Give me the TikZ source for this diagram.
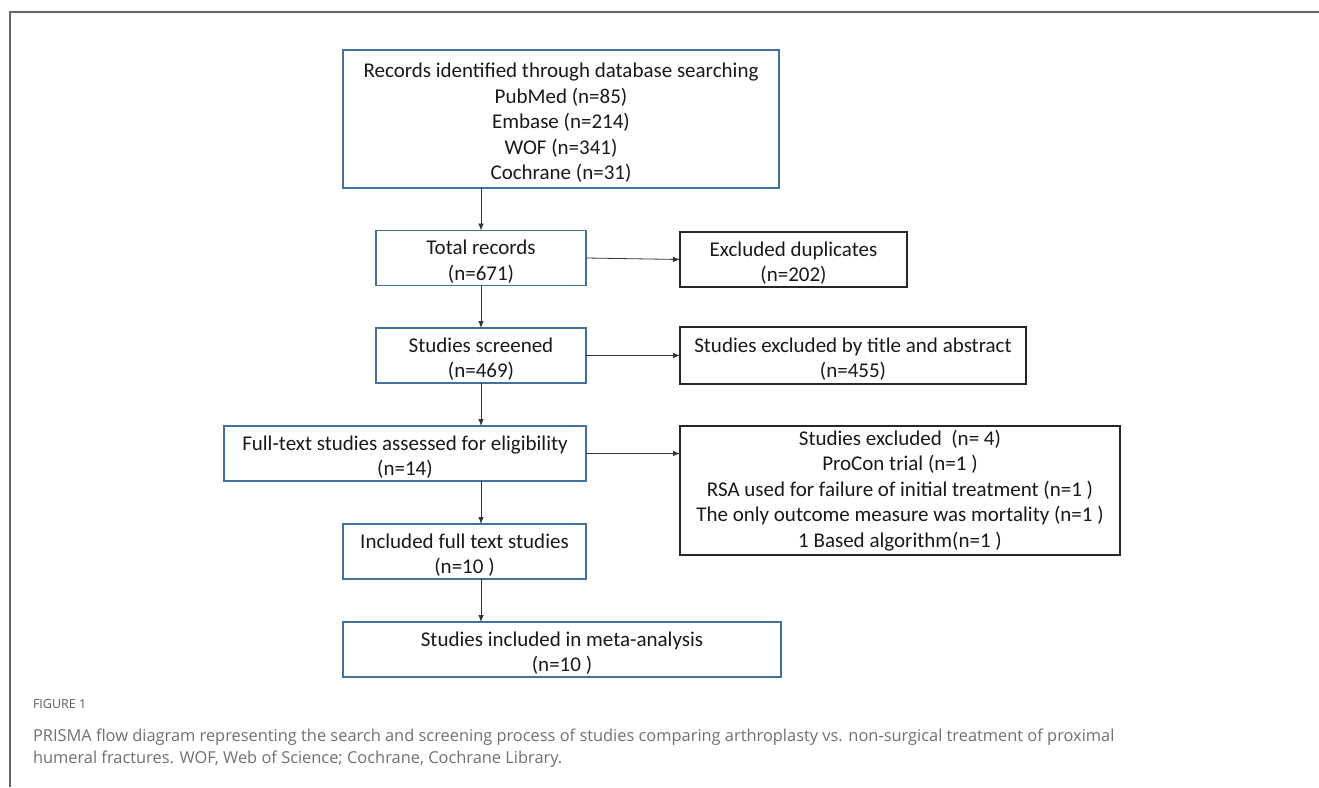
\documentclass[tikz,border=0pt]{standalone}
\usepackage{fontspec}
\setmainfont{Carlito}
\newfontfamily\capfont{Open Sans}
\usetikzlibrary{arrows.meta}
\definecolor{boxblue}{RGB}{65,113,156}
\definecolor{capgray}{RGB}{112,112,112}
\newcommand\lift{\rule{0pt}{22pt}}

\begin{document}
\begin{tikzpicture}[>={Latex[length=7pt,width=5.5pt]}, x=1pt, y=-1pt,
  every node/.style={font=\fontsize{21}{25.5}\selectfont, align=center, inner sep=0pt, outer sep=0pt, text=black!90},
  flowbox/.style={draw=boxblue, line width=1.2pt, minimum height=55pt},
  exclbox/.style={draw=black!85, line width=1.2pt, minimum height=55pt},
  link/.style={->, line width=0.8pt, black!80}]

\useasboundingbox (0,0) rectangle (1319,787);
\draw[line width=1.6pt, gray!80!black] (10,787)--(10,12)--(1319,12);

\node[flowbox, minimum width=436pt, minimum height=138pt] (rec) at (561,119)
  {\lift Records identified through database searching\\PubMed (n=85)\\Embase (n=214)\\WOF (n=341)\\Cochrane (n=31)};
\node[flowbox, minimum width=210pt] (tot) at (481,258) {\lift Total records\\(n=671)};
\node[exclbox, minimum width=227pt] (dup) at (793.5,259.5) {\lift Excluded duplicates\\(n=202)};
\node[flowbox, minimum width=210pt] (scr) at (481,355.5) {\lift Studies screened\\(n=469)};
\node[exclbox, minimum width=346pt, minimum height=57pt] (tia) at (853,355.5) {\lift Studies excluded by title and abstract\\(n=455)};
\node[flowbox, minimum width=362pt] (ful) at (405,453.5) {\lift Full-text studies assessed for eligibility\\(n=14)};
\node[exclbox, minimum width=440pt, minimum height=129pt] (exc) at (900,490.5)
  {Studies excluded~~(n= 4)\\ProCon trial (n=1 )\\RSA used for failure of initial treatment (n=1 )\\The only outcome measure was mortality (n=1 )\\1 Based algorithm(n=1 )};
\node[flowbox, minimum width=243pt] (inc) at (464.5,551.5) {\lift Included full text studies\\(n=10 )};
\node[flowbox, minimum width=438pt] (met) at (562,649.5) {\lift Studies included in meta-analysis\\(n=10 )};

\draw[link] (tot.north |- rec.south)--(tot.north);
\draw[link] (tot.south)--(scr.north);
\draw[link] (scr.south)--(scr.south |- ful.north);
\draw[link] (scr.south |- ful.south)--(scr.south |- inc.north);
\draw[link] (scr.south |- inc.south)--(scr.south |- met.north);

\draw[link] (tot.east)--(dup.west);
\draw[link] (scr.east)--(tia.west);
\draw[link] (ful.east)--(ful.east -| exc.west);

\node[anchor=west, font=\capfont\fontsize{12.5}{15}\selectfont, text=capgray!80!black] (fig) at (33,704) {FIGURE 1};
\node[anchor=west, align=left, font=\capfont\fontsize{16.4}{22}\selectfont, text=capgray] (cap) at (33,748)
  {PRISMA flow diagram representing the search and screening process of studies comparing arthroplasty vs. non-surgical treatment of proximal\\
   humeral fractures. WOF, Web of Science; Cochrane, Cochrane Library.};
\end{tikzpicture}
\end{document}
